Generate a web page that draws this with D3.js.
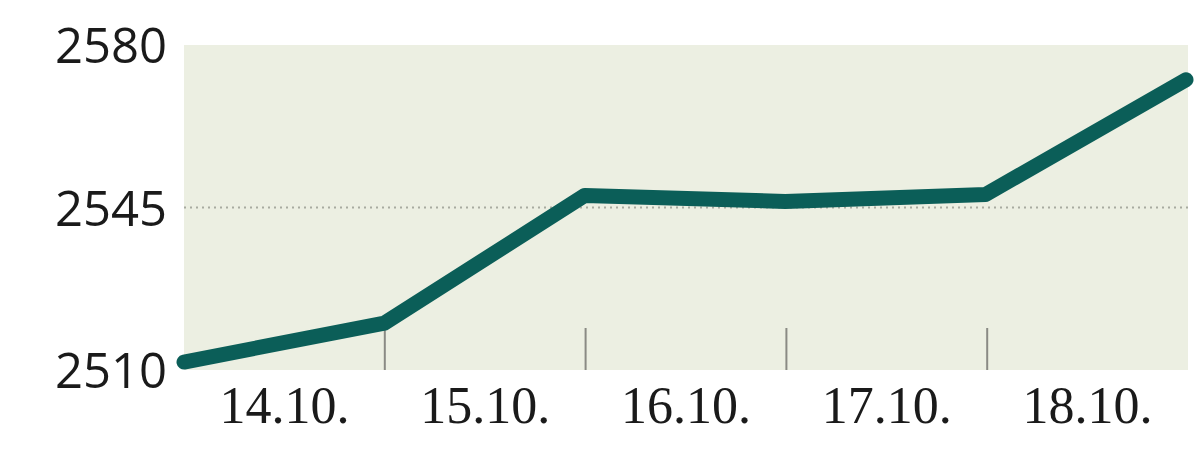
<!DOCTYPE html>
<html><head><meta charset="utf-8">
<script src="https://cdn.jsdelivr.net/npm/d3@7"></script>
<style>body{margin:0;background:#fff}svg{display:block}</style>
</head><body>
<svg id="c" width="1204" height="451"></svg>
<script>
const dayLabels = ["14.10.", "15.10.", "16.10.", "17.10.", "18.10."];
const pointIndex = [0, 1, 2, 3, 4, 5];
const values = [2511.7, 2520.1, 2547.6, 2546.3, 2547.8, 2572.5];
const yTicks = [2510, 2545, 2580];
const gridValues = [2545];

const svg = d3.select("#c");
const L = 184, R = 1188, T = 45, B = 370;

const x = d3.scaleBand().domain(dayLabels).range([L, R]).paddingInner(0).paddingOuter(0);
const xp = d3.scaleLinear().domain([0, pointIndex.length - 1]).range([L, R - 2]);
const y = d3.scaleLinear().domain([2510, 2580]).range([B, T]);

svg.append("rect").attr("x", L).attr("y", y(2580)).attr("width", R - L).attr("height", y(2510) - y(2580)).attr("fill", "#ecefe2");

svg.selectAll(".grid").data(gridValues).join("line")
  .attr("x1", L).attr("x2", R).attr("y1", d => y(d)).attr("y2", d => y(d))
  .attr("stroke", "#a8aba0").attr("stroke-width", 2).attr("stroke-dasharray", "2,4");

// band separator ticks
svg.selectAll(".sep").data(dayLabels.slice(1)).join("line")
  .attr("x1", d => x(d)).attr("x2", d => x(d))
  .attr("y1", y(2510) - 42).attr("y2", y(2510))
  .attr("stroke", "#8a8a84").attr("stroke-width", 2);

const line = d3.line().x((d, i) => xp(pointIndex[i])).y(d => y(d));
svg.append("path").datum(values).attr("d", line)
  .attr("fill", "none").attr("stroke", "#0b5e58").attr("stroke-width", 15)
  .attr("stroke-linecap", "round").attr("stroke-linejoin", "round");

// y axis labels
const yAxis = d3.axisLeft(y).tickValues(yTicks).tickSize(0).tickPadding(0).tickFormat(d3.format("d"));
const ya = svg.append("g").attr("transform", "translate(167,0)").call(yAxis);
ya.select(".domain").remove();
ya.selectAll("text").attr("font-family", "'Open Sans', sans-serif").attr("font-size", 49)
  .attr("fill", "#1a1a1a").attr("dy", "0.36em");

// x axis labels
const xAxis = d3.axisBottom(x).tickSize(0).tickPadding(0);
const xa = svg.append("g").attr("transform", "translate(0,386)").call(xAxis);
xa.select(".domain").remove();
xa.selectAll("text").attr("font-family", "'Liberation Serif', serif").attr("font-size", 52)
  .attr("fill", "#1a1a1a").attr("dy", "0.71em");
</script>
</body></html>
